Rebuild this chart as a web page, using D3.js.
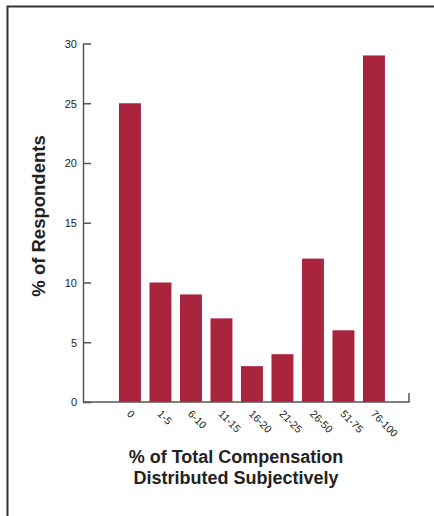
<!DOCTYPE html>
<html><head><meta charset="utf-8">
<script src="https://cdn.jsdelivr.net/npm/d3@7"></script>
<style>html,body{margin:0;padding:0;background:#fff;}svg{display:block;}</style>
</head><body>
<script>
const categories = ["0","1-5","6-10","11-15","16-20","21-25","26-50","51-75","76-100"];
const values = [25,10,9,7,3,4,12,6,29];
const yTicks = [0,5,10,15,20,25,30];
const yTitle = "% of Respondents";
const xTitleLines = ["% of Total Compensation","Distributed Subjectively"];

const W=434,H=516;
const svg=d3.select("body").append("svg").attr("width",W).attr("height",H);
svg.append("rect").attr("width",W).attr("height",H).attr("fill","#fff");
// frame
svg.append("path").attr("d","M7.5,518V6.5H436").attr("fill","none").attr("stroke","#333").attr("stroke-width",2);

const x=d3.scaleBand().domain(categories).range([114.7,389.2]).paddingInner(0.28).paddingOuter(0.14);
const y=d3.scaleLinear().domain([0,30]).range([402,43.5]);
const font="Helvetica, 'Liberation Sans', Arial, sans-serif";
const axisColor="#555";

svg.append("g").selectAll("rect").data(values).join("rect")
  .attr("x",(d,i)=>x(categories[i])).attr("width",x.bandwidth())
  .attr("y",d=>y(d)).attr("height",d=>y(0)-y(d)).attr("fill","#a9253e");

// y axis
const ya=svg.append("g").attr("transform","translate(83,0)")
  .call(d3.axisRight(y).tickValues(yTicks).tickSize(8).tickSizeOuter(0));
ya.select(".domain").attr("stroke",axisColor).attr("stroke-width",1.5);
ya.selectAll(".tick line").attr("stroke",axisColor).attr("stroke-width",1.5);
ya.selectAll(".tick text").attr("x",-6).attr("text-anchor","end").attr("dy","0.35em")
  .attr("font-family",font).attr("font-size",11).attr("fill","#222");

// x axis baseline
const xa=svg.append("g").attr("transform","translate(0,402)")
  .call(d3.axisBottom(x).tickSize(0).tickSizeOuter(0));
xa.select(".domain").remove();
svg.append("path").attr("d",`M83,${y(0)}H409V393`).attr("fill","none").attr("stroke",axisColor).attr("stroke-width",1.5);
xa.selectAll(".tick text")
  .attr("transform","translate(-1,10) rotate(45)")
  .attr("text-anchor","start").attr("y",0).attr("dy","0.35em").attr("x",0)
  .attr("font-family",font).attr("font-size",10.5).attr("fill","#222");

// titles
svg.append("text").attr("transform","translate(45,216) rotate(-90)")
  .attr("text-anchor","middle").attr("font-family",font).attr("font-weight","bold")
  .attr("font-size",18.5).attr("fill","#222").text(yTitle);
svg.selectAll("text.xt").data(xTitleLines).join("text").attr("class","xt")
  .attr("x",236).attr("y",(d,i)=>463+i*21).attr("text-anchor","middle")
  .attr("font-family",font).attr("font-weight","bold").attr("font-size",18).attr("fill","#222").text(d=>d);
</script>
</body></html>
